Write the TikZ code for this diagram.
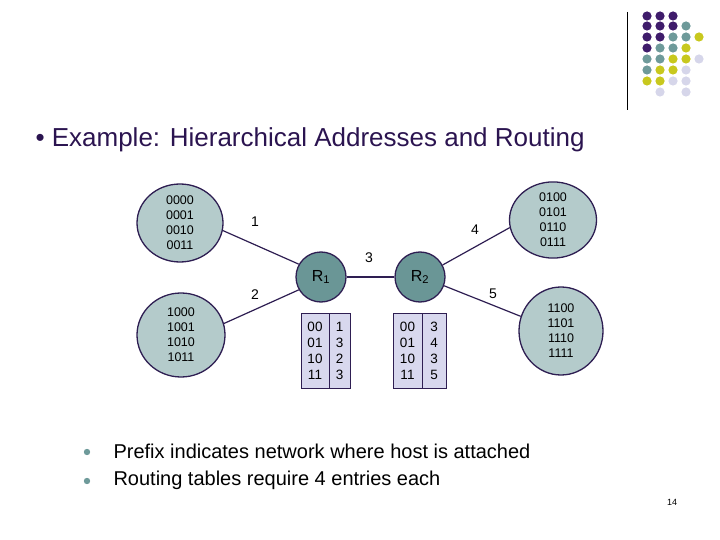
\documentclass[tikz,border=0pt]{standalone}
\usepackage{fontspec}
\setmainfont{Liberation Sans}
\usetikzlibrary{shapes.geometric}

\definecolor{titlepurple}{HTML}{2B1450}
\definecolor{linecol}{HTML}{2E1E52}
\definecolor{netfill}{HTML}{B4CBCB}
\definecolor{routerfill}{HTML}{6A9696}
\definecolor{tablefill}{HTML}{D8D8EE}
\definecolor{dotpurple}{HTML}{3F1C6B}
\definecolor{dotteal}{HTML}{6E9A9A}
\definecolor{dotyellow}{HTML}{C8C81E}
\definecolor{dotlav}{HTML}{D6D6EA}

\tikzset{
  net/.style={draw=linecol,fill=netfill,ellipse,line width=1.3pt,inner sep=0pt,
    align=center,font=\fontsize{12.5}{15}\selectfont},
  router/.style={draw=linecol,fill=routerfill,circle,minimum size=50pt,
    line width=1.3pt,inner sep=0pt,font=\fontsize{16}{18}\selectfont},
  tabcol/.style={draw=linecol,fill=tablefill,line width=0.8pt,minimum height=75pt,
    inner sep=0pt,align=center,font=\fontsize{13.5}{16}\selectfont},
  linklabel/.style={font=\fontsize{14}{14}\selectfont},
  link/.style={draw=linecol,line width=1.2pt}
}

\begin{document}
\begin{tikzpicture}[x=1pt,y=-1pt]
  \useasboundingbox (0,0) rectangle (720,540);
  % corner decoration
  \draw[line width=1pt] (627,12) -- (627,110);
  \foreach \px/\py/\col in {
      647/16/dotpurple, 660/16/dotpurple, 673/16/dotpurple,
      647/26/dotpurple, 660/26/dotpurple, 673/26/dotpurple, 686/26/dotteal,
      647/37/dotpurple, 660/37/dotpurple, 673/37/dotteal, 686/37/dotteal, 699/37/dotyellow,
      647/48/dotpurple, 660/48/dotteal, 673/48/dotteal, 686/48/dotyellow,
      647/59/dotteal, 660/59/dotteal, 673/59/dotyellow, 686/59/dotyellow, 699/59/dotlav,
      647/70/dotteal, 660/70/dotyellow, 673/70/dotyellow, 686/70/dotlav,
      647/81/dotyellow, 660/81/dotyellow, 673/81/dotlav, 686/81/dotlav,
      660/92/dotlav, 686/92/dotlav}
    \fill[\col] (\px,\py) circle (4.6pt);

  \node[anchor=west,text=titlepurple,font=\fontsize{26}{28}\selectfont] (title) at (32,140)
    {\textbullet\ Example: Hierarchical Addresses and Routing};

  % networks
  \node[net,minimum width=86pt,minimum height=78pt] (N1) at (180,223)
    {0000\\0001\\0010\\0011};
  \node[net,minimum width=88pt,minimum height=84pt] (N2) at (181,335)
    {1000\\1001\\1010\\1011};
  \node[net,minimum width=87pt,minimum height=76pt] (N3) at (553,220)
    {0100\\0101\\0110\\0111};
  \node[net,minimum width=84pt,minimum height=88pt] (N4) at (561,331)
    {1100\\1101\\1110\\1111};

  % routers
  \node[router] (R1) at (321,277) {R\textsubscript{1}};
  \node[router] (R2) at (420,277) {R\textsubscript{2}};

  \path[link] (N1.-10) edge (R1.150) (N2.15) edge (R1.210) (R1) edge (R2);
  \path[link] (R2.28) edge (N3.190) (R2.-20) edge (N4.160);

  \node[linklabel] (L1) at (255,222) {1};
  \node[linklabel] (L2) at (255,295) {2};
  \node[linklabel] (L3) at (369,258) {3};
  \node[linklabel] (L4) at (475,230) {4};
  \node[linklabel] (L5) at (493,294) {5};

  % routing tables
  \node[tabcol,minimum width=28pt] (T1a) at (315,350.5) {00\\01\\10\\11};
  \node[tabcol,minimum width=21pt] (T1b) at (339.5,350.5) {1\\3\\2\\3};
  \node[tabcol,minimum width=29pt] (T2a) at (407.5,350.5) {00\\01\\10\\11};
  \node[tabcol,minimum width=24pt] (T2b) at (434,350.5) {3\\4\\3\\5};

  % bullets
  \fill[dotteal] (87,452) circle (3.2pt);
  \fill[dotteal] (87,481) circle (3.2pt);
  \node[anchor=west,font=\fontsize{20}{22}\selectfont] (B1) at (110,451)
    {Prefix indicates network where host is attached};
  \node[anchor=west,font=\fontsize{20}{22}\selectfont] (B2) at (110,480)
    {Routing tables require 4 entries each};

  \node[font=\fontsize{9}{10}\selectfont] (page) at (672,502) {14};
\end{tikzpicture}
\end{document}
